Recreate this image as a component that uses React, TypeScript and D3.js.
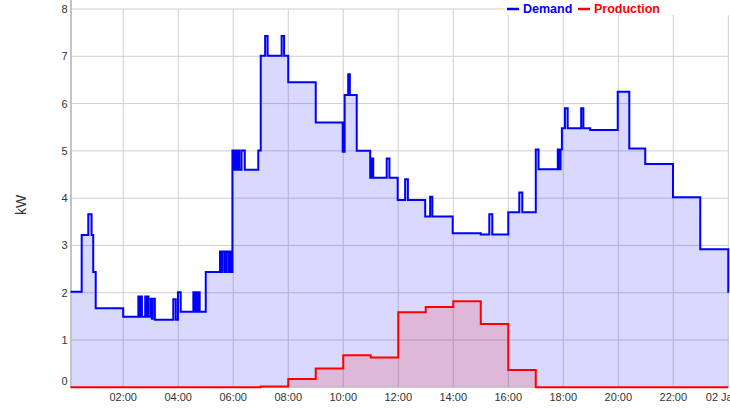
import React from "react";
import {
  scaleTime,
  scaleLinear,
  line,
  area,
  curveStepAfter,
  timeHour,
  timeFormat
} from "d3";

// hours after midnight, 1 Jan
const demandHours = [
  0.0833, 0.49, 0.73, 0.85, 0.91, 1.0, 2.0,
  2.55, 2.6, 2.63, 2.68, 2.8, 2.84, 2.87, 2.92, 3.0, 3.04, 3.07, 3.15,
  3.82, 3.91, 3.99, 4.09, 4.55, 4.6, 4.63, 4.7, 4.72, 4.78,
  5.0, 5.52, 5.58, 5.62, 5.7, 5.76, 5.84, 5.88, 5.95,
  5.97, 6.03, 6.07, 6.13, 6.17, 6.22, 6.3, 6.42, 6.91,
  7.0, 7.16, 7.25, 7.76, 7.85, 8.0, 9.0, 9.98, 10.05, 10.18, 10.24, 10.49,
  10.98, 11.02, 11.09, 11.58, 11.68, 11.98, 12.25, 12.35, 12.98, 13.16, 13.24, 13.98,
  15.0, 15.31, 15.42, 16.0, 16.4, 16.51, 17.0, 17.1,
  17.8, 17.86, 17.9, 17.95, 18.06, 18.16, 18.65, 18.73, 18.98,
  19.98, 20.4, 20.98, 21.99, 22.98, 24.0
];
const demandKW = [
  2.02, 3.22, 3.66, 3.22, 2.44, 1.67, 1.49,
  1.92, 1.49, 1.92, 1.49, 1.92, 1.49, 1.92, 1.49, 1.87, 1.45, 1.87, 1.43,
  1.86, 1.43, 2.01, 1.6, 2.01, 1.6, 2.01, 1.6, 2.01, 1.6,
  2.44, 2.87, 2.44, 2.87, 2.44, 2.87, 2.44, 2.87, 2.44,
  5.01, 4.6, 5.01, 4.6, 5.01, 4.6, 5.01, 4.6, 5.01,
  7.01, 7.43, 7.01, 7.43, 7.01, 6.45, 5.6, 4.98, 6.18, 6.62, 6.18, 5.0,
  4.43, 4.84, 4.43, 4.84, 4.43, 3.96, 4.4, 3.96, 3.61, 4.03, 3.61, 3.26,
  3.23, 3.66, 3.23, 3.7, 4.12, 3.7, 5.03, 4.61,
  5.03, 4.61, 5.03, 5.48, 5.9, 5.48, 5.9, 5.48, 5.44,
  6.25, 5.05, 4.72, 4.02, 2.92, 2.0
];

const productionHours = [0.0833, 7.0, 8.0, 9.0, 10.0, 11.0, 12.0, 13.0, 14.0, 15.0, 16.0, 17.0, 24.0];
const productionKW = [0, 0.015, 0.175, 0.4, 0.68, 0.63, 1.585, 1.7, 1.82, 1.34, 0.365, 0, 0];

const yTicks = [0, 1, 2, 3, 4, 5, 6, 7, 8];
const seriesNames = ["Demand", "Production"];

const day = new Date(2000, 0, 1);
const toDate = (h: number) => new Date(day.getTime() + h * 3600e3);

const W = 730;
const H = 409;
const FONT = "'Liberation Sans', Arial, sans-serif";

export default function App() {
  const x = scaleTime()
    .domain([toDate(demandHours[0]), toDate(24)])
    .range([70.5, 728.3]);
  const y = scaleLinear().domain([0, 8]).range([387.3, 9]);

  const demand = demandHours.map((h, i) => ({ t: toDate(h), v: demandKW[i] }));
  const production = productionHours.map((h, i) => ({ t: toDate(h), v: productionKW[i] }));

  const lineGen = line<{ t: Date; v: number }>()
    .x(d => x(d.t))
    .y(d => y(d.v))
    .curve(curveStepAfter);
  const areaGen = area<{ t: Date; v: number }>()
    .x(d => x(d.t))
    .y0(y(0))
    .y1(d => y(d.v))
    .curve(curveStepAfter);

  const xTicks = timeHour.every(2)!.range(toDate(2), toDate(24.01));
  const fmt = (d: Date) =>
    d.getHours() === 0 ? timeFormat("%d %b")(d) : timeFormat("%H:%M")(d);

  return (
    <svg
      width={W}
      height={H}
      style={{ position: "absolute", left: 0, top: 0, fontFamily: FONT }}
    >
      <rect width={W} height={H} fill="#fff" />

      {/* grid */}
      {yTicks.map(t => (
        <line key={"gy" + t} x1={71} x2={729} y1={y(t)} y2={y(t)} stroke="#cfcfcf" strokeWidth={1} />
      ))}
      {xTicks.map(t => (
        <line key={"gx" + t.getTime()} x1={x(t)} x2={x(t)} y1={y(8)} y2={y(0)} stroke="#cfcfcf" strokeWidth={1} />
      ))}

      {/* areas */}
      <path d={areaGen(demand) || ""} fill="rgba(0,0,255,0.15)" />
      <path d={areaGen(production) || ""} fill="rgba(255,0,0,0.15)" />

      {/* left axis line */}
      <line x1={71} x2={71} y1={0} y2={y(0) + 1} stroke="#c4c4c4" strokeWidth={2} />

      {/* lines */}
      <path d={lineGen(demand) || ""} fill="none" stroke="#0000ff" strokeWidth={2} />
      <path d={lineGen(production) || ""} fill="none" stroke="#ff0000" strokeWidth={2} />

      {/* y ticks */}
      {yTicks.map(t => (
        <text
          key={"ty" + t}
          x={67.5}
          y={y(t) + (t === 0 ? -2 : 4)}
          textAnchor="end"
          fontSize={11}
          fill="#333"
        >
          {t}
        </text>
      ))}
      <text
        transform={`translate(26,205) rotate(-90)`}
        textAnchor="middle"
        fontSize={14}
        fill="#333"
      >
        kW
      </text>

      {/* x ticks; the last one sits at the right edge and is cut, as in the original */}
      {xTicks.map(t => (
        <text
          key={"tx" + t.getTime()}
          x={x(t) - (t.getHours() === 0 ? 6 : 0)}
          y={401}
          textAnchor="middle"
          fontSize={11}
          fill="#333"
        >
          {fmt(t)}
        </text>
      ))}

      {/* legend */}
      <rect x={505} y={0} width={225} height={15} fill="#fff" />
      <line x1={507} x2={519} y1={9} y2={9} stroke="#0000ff" strokeWidth={2.5} />
      <text x={523} y={13} fontSize={12.5} fontWeight="bold" fill="#0000ff">
        {seriesNames[0]}
      </text>
      <line x1={578} x2={590} y1={9} y2={9} stroke="#ff0000" strokeWidth={2.5} />
      <text x={594} y={13} fontSize={12.5} fontWeight="bold" fill="#ff0000">
        {seriesNames[1]}
      </text>
    </svg>
  );
}
